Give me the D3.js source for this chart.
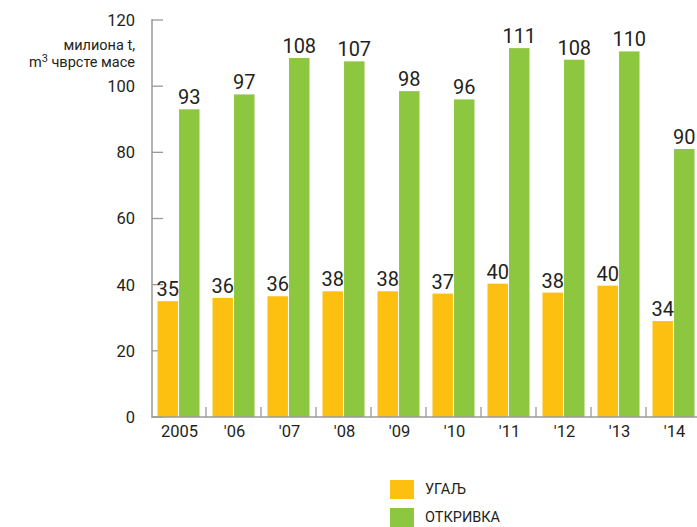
<!DOCTYPE html>
<html>
<head>
<meta charset="utf-8">
<script src="https://cdn.jsdelivr.net/npm/d3@7"></script>
<style>
  body { margin: 0; background: #fff; }
  svg { display: block; font-family: Roboto, "Noto Sans", sans-serif; }
</style>
</head>
<body>
<div id="chart"></div>
<script>
// years on the x axis
const years = ["2005", "'06", "'07", "'08", "'09", "'10", "'11", "'12", "'13", "'14"];
// bar heights as drawn (million t / m3 solid mass)
const coal = [35, 36, 36.5, 38, 38, 37.3, 40.3, 37.6, 39.7, 29];
const overburden = [93, 97.5, 108.5, 107.5, 98.5, 96, 111.5, 108, 110.5, 81];
// numbers printed above the bars
const coalLabels = [35, 36, 36, 38, 38, 37, 40, 38, 40, 34];
const overburdenLabels = [93, 97, 108, 107, 98, 96, 111, 108, 110, 90];
const yTicks = [0, 20, 40, 60, 80, 100, 120];
const seriesNames = ["УГАЉ", "ОТКРИВКА"];

const width = 697, height = 527;
const colors = ["#fdc010", "#8dc63f"];
const axisColor = "#9a9a9a";
const textColor = "#231f20";

const svg = d3.select("#chart").append("svg")
    .attr("width", width)
    .attr("height", height);

const x = d3.scaleBand()
    .domain(years)
    .range([151, 701]);

const xSub = d3.scaleBand()
    .domain([0, 1])
    .range([6.5, 48.5])
    .paddingInner(0.05);

const y = d3.scaleLinear()
    .domain([0, 120])
    .range([417, 20]);

// y ticks (pointing inward) and labels
const yAxis = svg.append("g");
yAxis.selectAll("line")
  .data(yTicks)
  .enter().append("line")
    .attr("x1", 152)
    .attr("x2", 163)
    .attr("y1", d => y(d))
    .attr("y2", d => y(d))
    .attr("stroke", axisColor)
    .attr("stroke-width", 1.3);
yAxis.selectAll("text")
  .data(yTicks)
  .enter().append("text")
    .attr("x", 135)
    .attr("y", d => y(d))
    .attr("dy", "0.36em")
    .attr("text-anchor", "end")
    .attr("fill", textColor)
    .style("font-size", "16.5px")
    .text(d => d);

// unit label
const unit = svg.append("text")
    .attr("text-anchor", "end")
    .attr("fill", textColor)
    .style("font-size", "14.5px");
unit.append("tspan").attr("x", 135).attr("y", 49.5).text("милиона t,");
const l2 = unit.append("tspan").attr("x", 135).attr("y", 67);
l2.append("tspan").text("m");
l2.append("tspan").attr("dy", -5).style("font-size", "11px").text("3");
l2.append("tspan").attr("dy", 5).text(" чврсте масе");

// group separators on the x axis
svg.append("g").selectAll("line")
  .data(years.slice(1))
  .enter().append("line")
    .attr("x1", d => x(d))
    .attr("x2", d => x(d))
    .attr("y1", 407)
    .attr("y2", 417)
    .attr("stroke", axisColor)
    .attr("stroke-width", 1.3);

// bars
const groups = svg.append("g").selectAll("g")
  .data(years)
  .enter().append("g")
    .attr("transform", d => `translate(${x(d)},0)`);

[coal, overburden].forEach((series, s) => {
  groups.append("rect")
      .attr("x", xSub(s))
      .attr("width", xSub.bandwidth())
      .attr("y", (d, i) => y(series[i]))
      .attr("height", (d, i) => y(0) - y(series[i]))
      .attr("fill", colors[s]);
});

[coalLabels, overburdenLabels].forEach((labels, s) => {
  const series = s === 0 ? coal : overburden;
  groups.append("text")
      .attr("x", xSub(s) + xSub.bandwidth() / 2)
      .attr("y", (d, i) => y(series[i]) - 5)
      .attr("text-anchor", "middle")
      .attr("fill", textColor)
      .style("font-size", "20px")
      .text((d, i) => labels[i]);
});

// axis lines
svg.append("line")
    .attr("x1", 152).attr("x2", 152)
    .attr("y1", 19).attr("y2", 417.5)
    .attr("stroke", axisColor).attr("stroke-width", 1.5);
svg.append("line")
    .attr("x1", 151.5).attr("x2", width)
    .attr("y1", 417).attr("y2", 417)
    .attr("stroke", axisColor).attr("stroke-width", 1.5);

// year labels
svg.append("g").selectAll("text")
  .data(years)
  .enter().append("text")
    .attr("x", d => x(d) + x.bandwidth() / 2 + 1)
    .attr("y", 437)
    .attr("text-anchor", "middle")
    .attr("fill", textColor)
    .style("font-size", "16.5px")
    .text(d => d);

// legend
const legend = svg.append("g").selectAll("g")
  .data(seriesNames)
  .enter().append("g")
    .attr("transform", (d, i) => `translate(390,${480 + i * 28})`);
legend.append("rect")
    .attr("width", 24)
    .attr("height", 19)
    .attr("fill", (d, i) => colors[i]);
legend.append("text")
    .attr("x", 35)
    .attr("y", 14)
    .attr("fill", textColor)
    .style("font-size", "14.5px")
    .text(d => d);
</script>
</body>
</html>
